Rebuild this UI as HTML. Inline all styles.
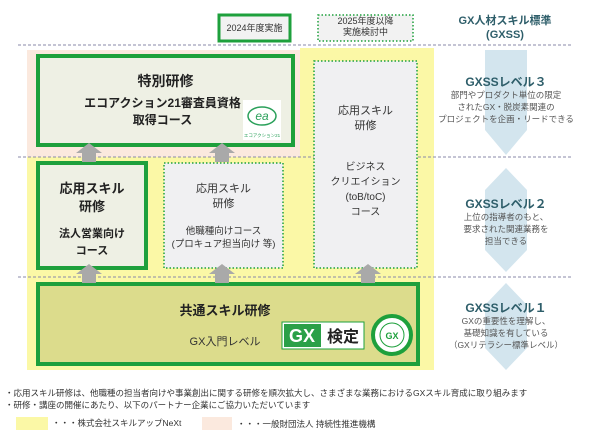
<!DOCTYPE html>
<html><head><meta charset="utf-8"><style>
*{margin:0;padding:0;box-sizing:border-box}
body{width:600px;height:446px;background:#fff;position:relative;overflow:hidden;font-family:"Liberation Sans","Noto Sans CJK JP",sans-serif;color:#333}
.a{position:absolute}
.c{text-align:center}
</style></head><body>
<svg class="a" style="left:0;top:0" width="600" height="446">
<rect x="27" y="50" width="273" height="107" fill="#fbe9de"/>
<rect x="300" y="48" width="134" height="322" fill="#fbf8a6"/>
<rect x="27" y="157" width="273" height="213" fill="#fbf8a6"/>
<line x1="18" y1="45" x2="572" y2="45" stroke="#8a8aa8" stroke-dasharray="3,2"/>
<line x1="18" y1="157" x2="572" y2="157" stroke="#8a8aa8" stroke-dasharray="3,2"/>
<line x1="18" y1="277" x2="572" y2="277" stroke="#8a8aa8" stroke-dasharray="3,2"/>
<polygon points="485,50 527,50 527,130 506,155 485,130" fill="#d3e5ee"/>
<polygon points="506,168 527,190 527,250 506,272 485,250 485,190" fill="#d3e5ee"/>
<polygon points="506,283 527,305 527,348 506,370 485,348 485,305" fill="#d3e5ee"/>
<rect x="219" y="15" width="71" height="26" fill="#f2f2f2" stroke="#1ea03c" stroke-width="3"/>
<rect x="318" y="15" width="95" height="26" fill="#f2f2f2" stroke="#1ea03c" stroke-width="1.5" stroke-dasharray="1.5,2"/>
<rect x="38" y="56" width="255" height="89" fill="#eef0e4" stroke="#1ea03c" stroke-width="4"/>
<rect x="314" y="61" width="103" height="207" fill="#f0f0f2" stroke="#1ea03c" stroke-width="1.5" stroke-dasharray="1.5,2"/>
<rect x="38" y="163" width="108" height="105" fill="#eef0e4" stroke="#1ea03c" stroke-width="4"/>
<rect x="164" y="163" width="119" height="105" fill="#f0f0f2" stroke="#1ea03c" stroke-width="1.5" stroke-dasharray="1.5,2"/>
<rect x="38" y="284" width="380" height="80" fill="#dcdc8c" stroke="#1ea03c" stroke-width="4"/>
<g fill="#a9a9a9">
<polygon points="82,162 82,153 76,153 89,143 102,153 96,153 96,162"/>
<polygon points="215,162 215,153 209,153 222,143 235,153 229,153 229,162"/>
<polygon points="82,283 82,274 76,274 89,264 102,274 96,274 96,283"/>
<polygon points="215,283 215,274 209,274 222,264 235,274 229,274 229,283"/>
<polygon points="361,283 361,274 355,274 368,264 381,274 375,274 375,283"/>
</g>
<rect x="243" y="100" width="38" height="40" fill="#fff"/>
<ellipse cx="262" cy="116" rx="14" ry="9" fill="none" stroke="#2aa05a" stroke-width="1.5"/>
<text x="262" y="120" font-size="12" fill="#2aa05a" text-anchor="middle" font-style="italic">ea</text>
<text x="262" y="137" font-size="4.5" fill="#2aa05a" text-anchor="middle">エコアクション21</text>
<rect x="282" y="322" width="82" height="27" fill="#fff" stroke="#1ea03c" stroke-width="1"/>
<rect x="284" y="324" width="37" height="23" fill="#2aa048"/>
<text x="302" y="342" font-size="18" font-weight="bold" fill="#fff" text-anchor="middle">GX</text>
<text x="343" y="342" font-size="16" font-weight="bold" fill="#222" text-anchor="middle">検定</text>
<circle cx="392" cy="335" r="19" fill="#fff" stroke="#1ea03c" stroke-width="4"/>
<circle cx="392" cy="335" r="12" fill="#fff" stroke="#1ea03c" stroke-width="1"/>
<text x="392" y="339" font-size="9" fill="#1ea03c" text-anchor="middle" font-weight="bold">GX</text>
<rect x="16" y="417" width="32" height="13" fill="#fbf8a6"/>
<rect x="202" y="417" width="30" height="13" fill="#fbe9de"/>
</svg>

<div class="a c" style="left:219px;top:21px;width:71px;font-size:9px">2024年度実施</div>
<div class="a c" style="left:318px;top:16px;width:95px;font-size:9px;line-height:11px">2025年度以降<br>実施検討中</div>
<div class="a c" style="left:445px;top:14px;width:120px;font-size:11px;font-weight:bold;color:#2e5e6a;line-height:14px">GX人材スキル標準<br>(GXSS)</div>

<div class="a c" style="left:38px;top:71px;width:255px;font-size:14px;font-weight:bold;color:#222">特別研修</div>
<div class="a c" style="left:80px;top:95px;width:165px;font-size:12px;font-weight:bold;color:#222;line-height:17px">エコアクション21審査員資格<br>取得コース</div>

<div class="a c" style="left:314px;top:104px;width:103px;font-size:11px;line-height:15px">応用スキル<br>研修</div>
<div class="a c" style="left:314px;top:160px;width:103px;font-size:10px;line-height:15px">ビジネス<br>クリエイション<br>(toB/toC)<br>コース</div>

<div class="a c" style="left:38px;top:180px;width:108px;font-size:13px;font-weight:bold;color:#222;line-height:18px">応用スキル<br>研修</div>
<div class="a c" style="left:38px;top:226px;width:108px;font-size:11px;font-weight:bold;color:#222;line-height:17px">法人営業向け<br>コース</div>

<div class="a c" style="left:164px;top:182px;width:119px;font-size:11px;line-height:15px">応用スキル<br>研修</div>
<div class="a c" style="left:164px;top:225px;width:119px;font-size:9.5px;line-height:13px">他職種向けコース<br>(プロキュア担当向け 等)</div>

<div class="a c" style="left:150px;top:300px;width:150px;font-size:13px;font-weight:bold;color:#222">共通スキル研修</div>
<div class="a c" style="left:150px;top:333px;width:150px;font-size:11px">GX入門レベル</div>

<div class="a c" style="left:436px;top:73px;width:140px;font-size:12px;font-weight:bold;color:#2e5e6a">GXSSレベル３</div>
<div class="a c" style="left:436px;top:89px;width:140px;font-size:8.5px;color:#555;line-height:12px;white-space:nowrap">部門やプロダクト単位の限定<br>されたGX・脱炭素関連の<br>プロジェクトを企画・リードできる</div>

<div class="a c" style="left:440px;top:195px;width:132px;font-size:12px;font-weight:bold;color:#2e5e6a">GXSSレベル２</div>
<div class="a c" style="left:440px;top:211px;width:132px;font-size:8.5px;color:#555;line-height:12px">上位の指導者のもと、<br>要求された関連業務を<br>担当できる</div>

<div class="a c" style="left:440px;top:299px;width:132px;font-size:12px;font-weight:bold;color:#2e5e6a">GXSSレベル１</div>
<div class="a c" style="left:440px;top:315px;width:132px;font-size:8.5px;color:#555;line-height:12px">GXの重要性を理解し、<br>基礎知識を有している<br>（GXリテラシー標準レベル）</div>

<div class="a" style="left:5px;top:387px;font-size:8.5px;white-space:nowrap;line-height:12px">・応用スキル研修は、他職種の担当者向けや事業創出に関する研修を順次拡大し、さまざまな業務におけるGXスキル育成に取り組みます<br>・研修・講座の開催にあたり、以下のパートナー企業にご協力いただいています</div>
<div class="a" style="left:52px;top:417px;font-size:8.5px;white-space:nowrap">・・・株式会社スキルアップNeXt</div>
<div class="a" style="left:237px;top:418px;font-size:8.5px;white-space:nowrap">・・・一般財団法人 持続性推進機構</div>
</body></html>
